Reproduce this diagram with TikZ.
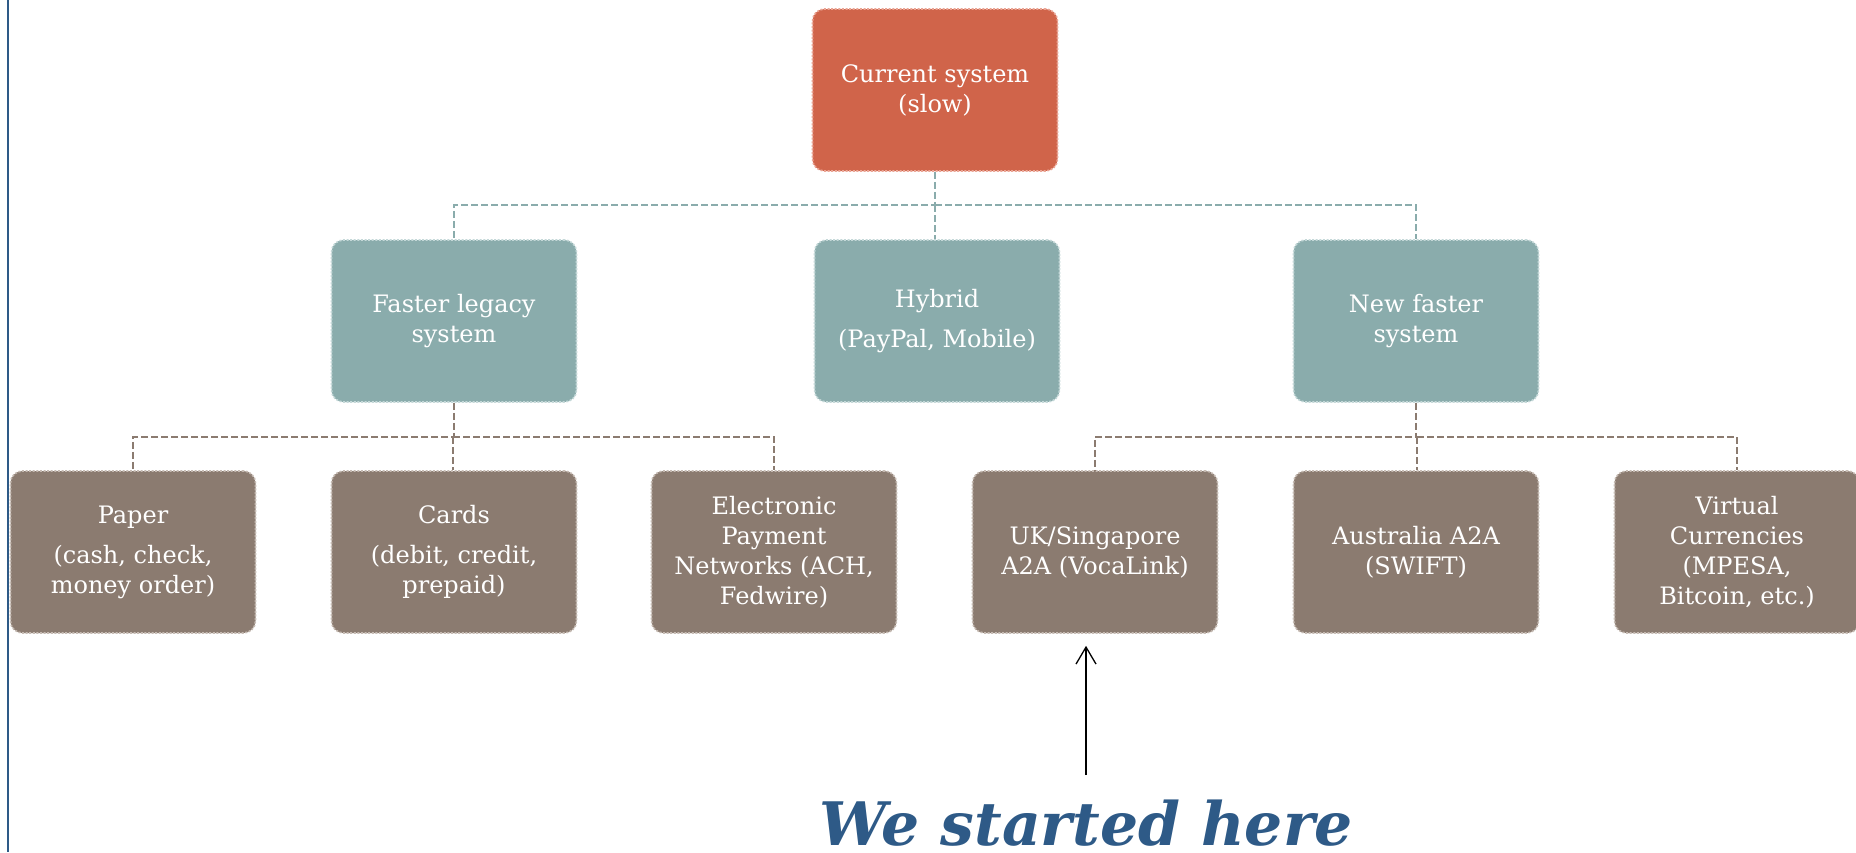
\documentclass[tikz,border=0pt]{standalone}
\usepackage{fontspec}
\setmainfont{DejaVu Serif}
\usetikzlibrary{arrows.meta}
\definecolor{coral}{HTML}{D0644A}
\definecolor{coralL}{HTML}{EBA595}
\definecolor{teal}{HTML}{8AACAC}
\definecolor{tealL}{HTML}{C4D8D8}
\definecolor{brownb}{HTML}{8B7B70}
\definecolor{brownL}{HTML}{C6BBB3}
\definecolor{navy}{HTML}{2E5A87}
\tikzset{
  box/.style={rounded corners=12pt, minimum width=245pt, minimum height=162pt,
    text=white, align=center, inner sep=0pt, line width=1.6pt,
    dash pattern=on 2pt off 1.6pt,
    font=\fontsize{24}{30}\selectfont},
  topbox/.style={box, fill=coral, draw=coralL},
  midbox/.style={box, fill=teal, draw=tealL},
  lowbox/.style={box, fill=brownb, draw=brownL},
  tconn/.style={draw=teal, line width=1.6pt, dash pattern=on 7pt off 3pt},
  bconn/.style={draw=brownb, line width=1.6pt, dash pattern=on 7pt off 3pt},
}
\begin{document}
\begin{tikzpicture}[x=1pt,y=-1pt]
\useasboundingbox (0,0) rectangle (1856,852);
\fill[white] (0,0) rectangle (1856,852);
\draw[navy, line width=2.5pt] (8,0) -- (8,852);

\coordinate (h1) at (935,205);
\coordinate (h2) at (1417,437);
\coordinate (h3) at (453,437);

\node[topbox] (cur) at (935,90) {Current system\\(slow)};
\node[midbox] (leg) at (454,321) {Faster legacy\\system};
\node[midbox] (hyb) at (937,321) {Hybrid\\[10pt](PayPal, Mobile)};
\node[midbox] (new) at (1416,321) {New faster\\system};

\node[lowbox] (pap) at (133,552) {Paper\\[10pt](cash, check,\\money order)};
\node[lowbox] (car) at (454,552) {Cards\\[10pt](debit, credit,\\prepaid)};
\node[lowbox] (ele) at (774,552) {Electronic\\Payment\\Networks (ACH,\\Fedwire)};
\node[lowbox] (uk) at (1095,552) {UK/Singapore\\A2A (VocaLink)};
\node[lowbox] (aus) at (1416,552) {Australia A2A\\(SWIFT)};
\node[lowbox] (vir) at (1737,552) {Virtual\\Currencies\\(MPESA,\\Bitcoin, etc.)};

\path[tconn] (cur.south) |- (h1) -| (leg.north);
\path[tconn] (h1) -| (new.north);
\path[tconn] (h1) -- (h1 |- hyb.north);

\path[bconn] (leg.south) |- (h3) -| (pap.north);
\path[bconn] (h3) -| (ele.north);
\path[bconn] (h3) -- (h3 |- car.north);

\path[bconn] (new.south) |- (h2) -| (uk.north);
\path[bconn] (h2) -| (vir.north);
\path[bconn] (h2) -- (h2 |- aus.north);

\coordinate (st) at (1086,775);
\draw[line width=1.3pt, -{Straight Barb[length=17pt,width=20pt]}, shorten >=12pt] (st) -- (st |- uk.south);

\node[anchor=base, text=navy, font=\fontsize{60}{70}\selectfont\bfseries\itshape] (lab) at (1086,845) {We started here};
\end{tikzpicture}
\end{document}
